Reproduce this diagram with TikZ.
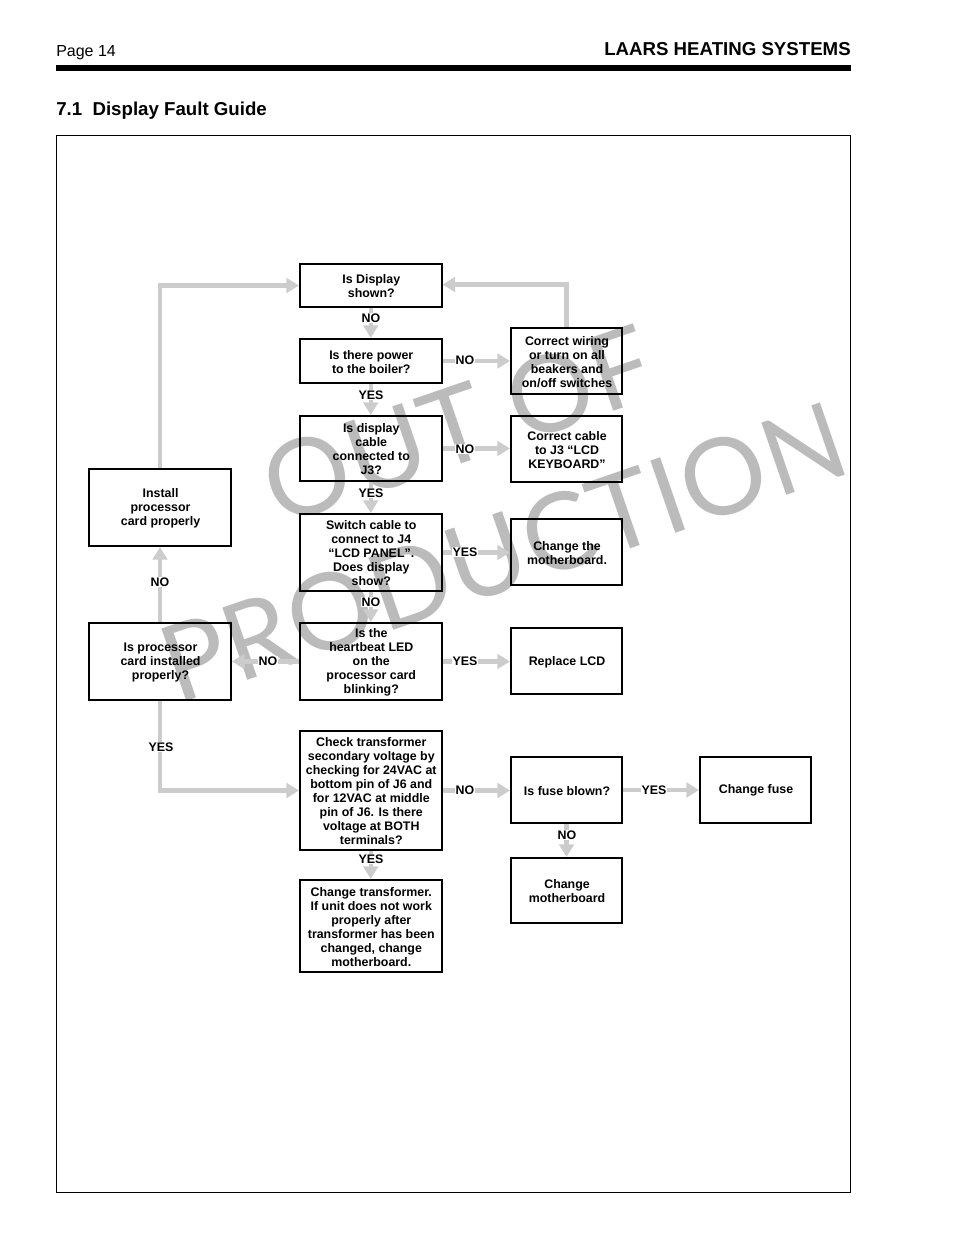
\documentclass[tikz,border=0pt]{standalone}
\usepackage{fontspec}
\setmainfont{Liberation Sans}
\newfontfamily\wmfont[LetterSpace=1]{Lato}
\usetikzlibrary{arrows.meta}
\definecolor{arrowgray}{HTML}{CCCCCC}
\definecolor{wmgray}{HTML}{BBBBBB}
\tikzset{
 x=0.75pt,y=-0.75pt,
 box/.style={draw=black,line width=1.5pt,inner sep=0pt,anchor=north west},
 boxtext/.style={align=center,inner sep=0pt,font=\bfseries\fontsize{9.3}{10.5}\selectfont},
 flow/.style={draw=arrowgray,line width=3.2pt,-{Triangle[length=9.5pt,width=11pt,color=arrowgray]}},
 lab/.style={fill=white,inner sep=0.3pt,font=\bfseries\fontsize{9.3}{10.5}\selectfont},
 wm/.style={text=wmgray,font=\wmfont\fontsize{80}{80}\selectfont,rotate=19,inner sep=0pt}
}
\newcommand{\bx}[6]{\node[box,minimum width=#4*0.75pt-#2*0.75pt-1.5pt,minimum height=#5*0.75pt-#3*0.75pt-1.5pt] (#1) at (#2,#3) {};
\node[boxtext] (#1t) at ([xshift=0.4pt,yshift=-0.6pt]#1.center) {#6};}
\begin{document}
\begin{tikzpicture}
\useasboundingbox (0,0) rectangle (954,1235);
% header
\node[anchor=base west,inner sep=0pt,font=\fontsize{12}{14}\selectfont] (page) at (56,56) {Page 14};
\node[anchor=base east,inner sep=0pt,font=\bfseries\fontsize{14}{16}\selectfont] (company) at (851,55) {LAARS HEATING SYSTEMS};
\fill[black] (56,65) rectangle (851,71);
\node[anchor=base west,inner sep=0pt,font=\bfseries\fontsize{14}{16}\selectfont] (title) at (56,115) {7.1\ \ Display Fault Guide};
\draw[black,line width=0.75pt] (56.5,135.5) rectangle (850.5,1192.5);
% watermark
\node[wm] (wm1) at (458,425) {OUT OF};
\node[wm] (wm2) at (503,552) {PRODUCTION};
% boxes
\bx{A}{299}{263}{442.5}{308}{Is Display\\shown?}
\bx{B}{299}{338}{442.5}{384}{Is there power\\to the boiler?}
\bx{C}{299}{415}{442.5}{482}{Is display\\cable\\connected to\\J3?}
\bx{D}{299}{513}{442.5}{592}{Switch cable to\\connect to J4\\“LCD PANEL”.\\Does display\\show?}
\bx{E}{299}{622}{442.5}{701}{Is the\\heartbeat LED\\on the\\processor card\\blinking?}
\bx{F}{299}{730}{442.5}{851}{Check transformer\\secondary voltage by\\checking for 24VAC at\\bottom pin of J6 and\\for 12VAC at middle\\pin of J6. Is there\\voltage at BOTH\\terminals?}
\bx{G}{299}{879}{442.5}{973}{Change transformer.\\If unit does not work\\properly after\\transformer has been\\changed, change\\motherboard.}
\bx{H}{510}{327}{623}{395}{Correct wiring\\or turn on all\\beakers and\\on/off switches}
\bx{I}{510}{415}{623}{483}{Correct cable\\to J3 “LCD\\KEYBOARD”}
\bx{J}{510}{518}{623}{586}{Change the\\motherboard.}
\bx{K}{510}{627}{623}{695}{Replace LCD}
\bx{L}{510}{756}{623}{824}{Is fuse blown?}
\bx{M}{510}{857}{623}{924}{Change\\motherboard}
\bx{N}{699}{756}{812}{824}{Change fuse}
\bx{O}{88}{468}{232}{547}{Install\\processor\\card properly}
\bx{P}{88}{622}{232}{701}{Is processor\\card installed\\properly?}
% connectors
\draw[flow] (A) -- (B);
\draw[flow] (B) -- (C);
\draw[flow] (C) -- (D);
\draw[flow] (D) -- (E);
\draw[flow] (F) -- (G);
\draw[flow] (B) -- (B -| H.west);
\draw[flow] (C) -- (C -| I.west);
\draw[flow] (D) -- (D -| J.west);
\draw[flow] (E) -- (E -| K.west);
\draw[flow] (F) -- (F -| L.west);
\draw[flow] (L) -- (N);
\draw[flow] (L) -- (M);
\draw[flow] (E) -- (P);
\draw[flow] (P) -- (O);
\draw[flow] (O.north) |- (A.west);
\draw[flow] (H.north) |- ([yshift=0.75pt]A.east);
\draw[flow] (P.south) |- (F.west);
% labels
\node[lab] (n1) at (371,318) {NO};
\node[lab] (n2) at (371,395) {YES};
\node[lab] (n3) at (371,493) {YES};
\node[lab] (n4) at (371,602) {NO};
\node[lab] (n5) at (465,360) {NO};
\node[lab] (n6) at (465,449) {NO};
\node[lab] (n7) at (465,552) {YES};
\node[lab] (n8) at (465,661) {YES};
\node[lab] (n9) at (268,661) {NO};
\node[lab] (n10) at (160,582) {NO};
\node[lab] (n11) at (161,747) {YES};
\node[lab] (n12) at (371,859) {YES};
\node[lab] (n13) at (465,790) {NO};
\node[lab] (n14) at (654,790) {YES};
\node[lab] (n15) at (567,835) {NO};
\end{tikzpicture}
\end{document}
